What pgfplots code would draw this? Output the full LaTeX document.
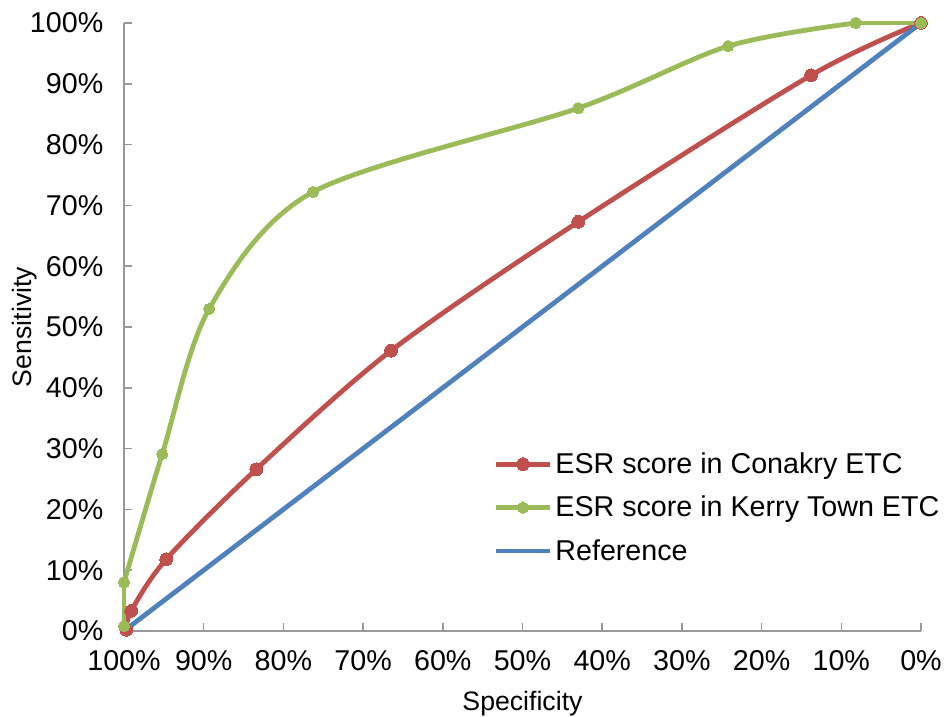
\documentclass[border=0pt]{standalone}
\usepackage{pgfplots}
\pgfplotsset{compat=1.18}
\usepackage{fontspec}
\setmainfont{Liberation Sans}

\definecolor{esrred}{HTML}{C0504D}
\definecolor{esrgreen}{HTML}{9BBB59}
\definecolor{refblue}{HTML}{4F81BD}
\definecolor{axgray}{HTML}{999999}

\begin{document}
\begin{tikzpicture}
\begin{axis}[
	scale only axis,
	width=597.75pt, height=456pt,
	x dir=reverse,
	xmin=0, xmax=100, ymin=0, ymax=100,
	xtick={0,10,...,100}, ytick={0,10,...,100},
	xticklabel={\pgfmathprintnumber[assume math mode=true]{\tick}\%},
	yticklabel={\pgfmathprintnumber[assume math mode=true]{\tick}\%},
	axis x line*=bottom, axis y line*=left,
	axis line style={axgray, line width=1.1pt, -},
	tick align=inside,
	major tick length=6pt,
	tick style={axgray, line width=1.1pt},
	tick label style={font=\fontsize{21.5}{24}\selectfont, text=black},
	xticklabel style={yshift=-11pt},
	yticklabel style={xshift=-12pt},
	label style={font=\fontsize{20}{24}\selectfont},
	xlabel={Specificity}, ylabel={Sensitivity},
	xlabel style={at={(axis description cs:0.5,-0.119)}, anchor=center},
	ylabel style={at={(axis description cs:-0.125,0.5)}, anchor=center},
	clip=false,
	legend style={at={(rel axis cs:0.463,0.298)}, anchor=north west, draw=none, fill=none,
		font=\fontsize{21.5}{24}\selectfont, row sep=11.5pt, inner sep=0pt},
	legend cell align=left,
	legend image code/.code={\draw[mark repeat=2,mark phase=2] plot coordinates {(0pt,0pt)(20.5pt,0pt)(41pt,0pt)};},
]
\addplot[esrred, line width=3.6pt, smooth, tension=0.5, mark=*, mark size=4.8pt, mark options={line width=0pt}]
	coordinates {(99.7,0.2) (99.1,3.3) (94.7,11.8) (83.4,26.6) (66.5,46.1) (43,67.3) (13.8,91.4) (0,100)};
\addlegendentry{ESR score in Conakry ETC}
\addplot[esrgreen, line width=3.6pt, smooth, tension=0.5, mark=*, mark size=4.2pt, mark options={line width=0pt}]
	coordinates {(100,8) (95.2,29.1) (89.3,53) (76.3,72.2) (43,86) (24.2,96.2) (8.2,100)};
\addlegendentry{ESR score in Kerry Town ETC}
\addplot[esrgreen, line width=3.6pt, mark=*, mark size=4.2pt, mark options={line width=0pt}, forget plot]
	coordinates {(100,0.8) (100,8)};
\addplot[esrgreen, line width=2.4pt, mark=*, mark size=4.2pt, mark options={line width=0pt}, forget plot]
	coordinates {(8.2,100) (0,100)};
\addplot[refblue, line width=3.6pt]
	coordinates {(100,0) (0,100)};
\addlegendentry{Reference}
\end{axis}
\pgfresetboundingbox
\path (-93pt,-64.5pt) rectangle (616.5pt,473.25pt);
\end{tikzpicture}
\end{document}
